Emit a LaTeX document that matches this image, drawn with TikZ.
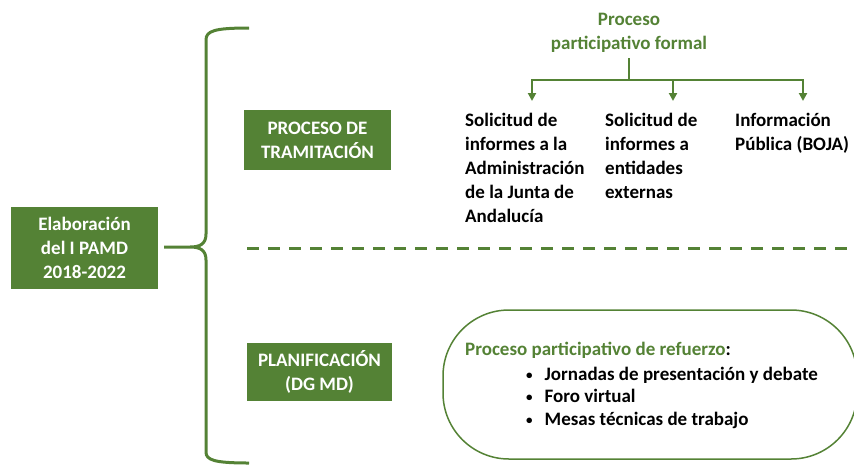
\documentclass[tikz,border=0pt]{standalone}
\usepackage{fontspec}
\setmainfont{Carlito}
\usetikzlibrary{positioning,arrows.meta}
\definecolor{pamd}{RGB}{84,130,53}

\newcommand{\smallbullet}{\raisebox{1pt}{\fontsize{13}{13}\selectfont\textbullet}}

\begin{document}
\begin{tikzpicture}[
    x=1pt, y=-1pt,
    gbox/.style={fill=pamd, text=white, font=\fontsize{19}{24}\selectfont\bfseries, align=center, inner sep=0pt},
    leaf/.style={font=\fontsize{19}{24}\selectfont\bfseries, align=left, anchor=base west, inner sep=0pt},
    arrow/.style={-{Triangle[length=8pt,width=8pt]}, pamd, line width=2pt}
]
\useasboundingbox (0,0) rectangle (854,464);

% Main box
\node[gbox, minimum width=147pt, minimum height=82pt] (main) at (84.5,248) {Elaboración\\del I PAMD\\2018-2022};

% Stages
\node[gbox, minimum width=147pt, minimum height=60pt] (tram) at (317.5,140) {PROCESO DE\\TRAMITACIÓN};
\node[gbox, minimum width=145pt, minimum height=58pt] (plan) at (319.5,372) {PLANIFICACIÓN\\(DG MD)};

% Brace
\coordinate (tip) at (164,247);
\draw[pamd, line width=3pt] (249,28) .. controls (214,28) and (206,31) .. (206,40) -- (206,234)
    .. controls (206,244) and (200,247) .. (190,247) -- (tip) -- (190,247)
    .. controls (200,247) and (206,250) .. (206,260) -- (206,452)
    .. controls (206,460) and (214,463) .. (249,463);

% Separator
\draw[pamd, line width=3pt, dash pattern=on 12pt off 9pt] (247,248) -- (854,248);

% Formal process (base = last line)
\node[font=\fontsize{19}{24}\selectfont\bfseries, text=pamd, align=center, anchor=base, inner sep=0pt] (formal) at (629,49) {Proceso\\participativo formal};
\coordinate (fork) at (629,80);
\coordinate (inA) at (532,101);
\coordinate (inB) at (673,101);
\coordinate (inC) at (803,101);

\draw[pamd, line width=2pt] ([yshift=-6pt]formal.south) -- (fork);
\draw[arrow] (fork) -| (inA);
\draw[arrow] (fork) -| (inB);
\draw[arrow] (fork) -| (inC);

\node[leaf] (solA) at (465,222) {Solicitud de\\informes a la\\Administración\\de la Junta de\\Andalucía};
\node[leaf] (solB) at (605,198) {Solicitud de\\informes a\\entidades\\externas};
\node[leaf] (info) at (735,150) {Información\\Pública (BOJA)};

% Reinforcement process
\node[draw=pamd, line width=1.5pt, rounded corners=66pt, minimum width=414pt, minimum height=149pt] (pill) at (650,384.5) {};
\node[leaf] (refuerzo) at (465,355) {\textcolor{pamd}{Proceso participativo de refuerzo}:};
\node[font=\fontsize{19}{22.5}\selectfont\bfseries, anchor=base west, inner sep=0pt] (lista) at (526,380)
    {\begin{tabular}[t]{@{}l@{\hspace{12pt}}l@{}}
     \smallbullet & Jornadas de presentación y debate\\
     \smallbullet & Foro virtual\\
     \smallbullet & Mesas técnicas de trabajo
     \end{tabular}};

\end{tikzpicture}
\end{document}
